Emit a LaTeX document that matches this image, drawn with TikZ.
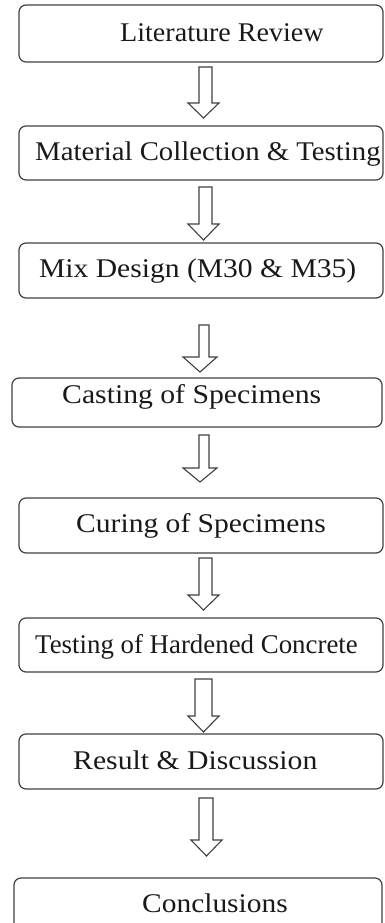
\documentclass[tikz,border=0pt]{standalone}
\usepackage{fontspec}
\usepackage{graphicx}
\setmainfont{Liberation Serif}
\begin{document}
\begin{tikzpicture}[x=1pt,y=-1pt,
  box/.style={draw=black!75, line width=1.2pt, rounded corners=7pt, inner sep=0pt, outer sep=0pt},
  lbl/.style={anchor=base west, inner sep=0pt, font=\fontsize{27}{30}\selectfont, text=black!90},
  arr/.style={draw=black!75, line width=1.1pt, fill=white, line join=miter}]
\useasboundingbox (0,0) rectangle (384,923);
\clip (0,0) rectangle (384,923);
\newcommand\barrow[8]{\draw[arr] (#1,#3) -- (#2,#3) -- (#2,#4) -- (#6,#4) -- (#8,#7) -- (#5,#4) -- (#1,#4) -- cycle;}
\newcommand\wide[2]{\scalebox{#1}[1]{#2}}
% boxes
\node[box, minimum width=364pt, minimum height=57pt] (b1) at (201,33.5) {};
\node[box, minimum width=364pt, minimum height=54pt] (b2) at (201,153) {};
\node[box, minimum width=364pt, minimum height=55pt] (b3) at (201,270.5) {};
\node[box, minimum width=370pt, minimum height=49pt] (b4) at (197,402.5) {};
\node[box, minimum width=364pt, minimum height=55pt] (b5) at (201,525.5) {};
\node[box, minimum width=364pt, minimum height=54pt] (b6) at (201,645) {};
\node[box, minimum width=364pt, minimum height=55pt] (b7) at (201,761.5) {};
\node[box, minimum width=368pt, minimum height=57pt] (b8) at (198,906.5) {};
% labels
\node[lbl] (t1) at (120,42) {\wide{1.04}{Literature Review}};
\node[lbl] (t2) at (35,160) {\wide{1.065}{Material Collection \& Testing}};
\node[lbl] (t3) at (39,277) {\wide{1.095}{Mix Design (M30 \& M35)}};
\node[lbl] (t4) at (62,403) {\wide{1.1}{Casting of Specimens}};
\node[lbl] (t5) at (76,532) {\wide{1.095}{Curing of Specimens}};
\node[lbl] (t6) at (35,653) {\wide{0.995}{Testing of Hardened Concrete}};
\node[lbl] (t7) at (73,769) {\wide{1.1}{Result \& Discussion}};
\node[lbl] (t8) at (142,912) {\wide{1.09}{Conclusions}};
% block arrows
\barrow{199}{212}{67}{103}{188}{219}{118}{203.5}
\barrow{199}{212}{187}{224}{188}{219}{240}{203.5}
\barrow{199}{209}{325}{357}{183}{217}{372}{200}
\barrow{199}{209}{435}{468}{183}{217}{482}{200}
\barrow{199}{212}{558}{595}{188}{219}{610}{203.5}
\barrow{195}{212}{679}{716}{188}{219}{732}{203.5}
\barrow{199}{213}{798}{840}{191}{222}{856}{206.5}
\end{tikzpicture}
\end{document}
